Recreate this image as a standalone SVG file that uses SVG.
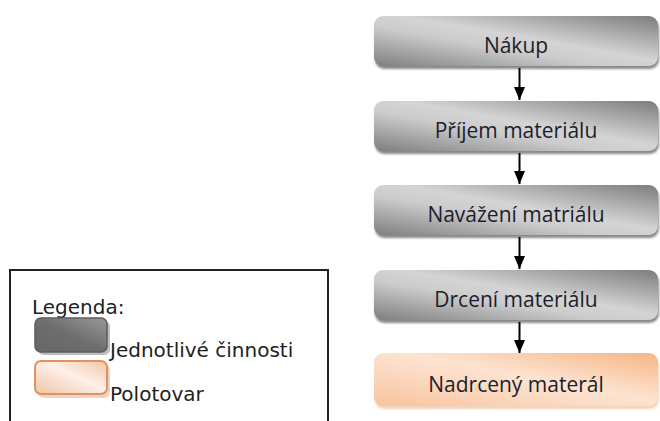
<svg xmlns="http://www.w3.org/2000/svg" width="660" height="421" viewBox="0 0 660 421">
  <defs>
    <linearGradient id="gGrey" x1="1" y1="0" x2="0" y2="1">
      <stop offset="0" stop-color="#7c7c7c"/>
      <stop offset="0.45" stop-color="#d4d4d4"/>
      <stop offset="0.6" stop-color="#cccccc"/>
      <stop offset="1" stop-color="#7e7e7e"/>
    </linearGradient>
    <linearGradient id="gOrange" x1="1" y1="0" x2="0" y2="1">
      <stop offset="0" stop-color="#f6b584"/>
      <stop offset="0.45" stop-color="#fde3d0"/>
      <stop offset="0.6" stop-color="#fcdcc6"/>
      <stop offset="1" stop-color="#f7c39c"/>
    </linearGradient>
    <linearGradient id="gSwDark" x1="1" y1="0" x2="0" y2="1">
      <stop offset="0" stop-color="#9a9a9a"/>
      <stop offset="0.5" stop-color="#6e6e6e"/>
      <stop offset="1" stop-color="#666666"/>
    </linearGradient>
    <linearGradient id="gSwOrange" x1="1" y1="0" x2="0" y2="1">
      <stop offset="0" stop-color="#f2c6a6"/>
      <stop offset="0.45" stop-color="#fdf0e8"/>
      <stop offset="1" stop-color="#f1c4a4"/>
    </linearGradient>
    <filter id="soft" x="-5%" y="-20%" width="110%" height="140%">
      <feGaussianBlur stdDeviation="1.2"/>
    </filter>
    <!-- arrowhead drawn along +x so orient="auto" turns it to the line direction -->
    <marker id="arrow" markerWidth="13" markerHeight="11" refX="13" refY="5.5" orient="auto" markerUnits="userSpaceOnUse" viewBox="0 0 13 11">
      <path d="M0,0 L13,5.5 L0,11 Z" fill="#000"/>
    </marker>
    <style>
      .shadow { fill: #5a5a5a; opacity: 0.7; filter: url(#soft); }
      .grey { fill: url(#gGrey); }
      .orange { fill: url(#gOrange); }
      .label { font-family: "Open Sans", "Noto Sans", sans-serif; font-size: 21px; fill: #1a1e2c; text-anchor: middle; }
      .legend { font-family: "DejaVu Sans", sans-serif; font-size: 20px; fill: #222; }
      .conn { stroke: #000; stroke-width: 2; fill: none; }
    </style>
  </defs>

  <!-- legend frame -->
  <g id="legend">
    <path d="M10,421 V270 H328 V421" fill="none" stroke="#222" stroke-width="2"/>
    <text class="legend" x="32" y="314" font-size="21">Legenda:</text>
    <rect x="38" y="321" width="72" height="34" rx="6" fill="#bdbdbd"/>
    <rect x="35" y="318" width="72" height="34" rx="6" fill="url(#gSwDark)" stroke="#5c5c5c" stroke-width="1.5"/>
    <text class="legend" x="110" y="357">Jednotlivé činnosti</text>
    <rect x="38" y="364" width="72" height="34" rx="6" fill="#f3d2bd"/>
    <rect x="35" y="361" width="72" height="33" rx="6" fill="url(#gSwOrange)" stroke="#df9262" stroke-width="2"/>
    <text class="legend" x="110" y="401">Polotovar</text>
  </g>

  <!-- process steps -->
  <g id="nakup">
    <rect class="shadow" x="375" y="19" width="284" height="50" rx="9"/>
    <rect class="grey" x="374" y="16" width="284" height="50" rx="9"/>
    <text class="label" x="516" y="53">Nákup</text>
  </g>
  <g id="prijem">
    <rect class="shadow" x="375" y="104" width="284" height="50" rx="9"/>
    <rect class="grey" x="374" y="101" width="284" height="50" rx="9"/>
    <text class="label" x="516" y="138">Příjem materiálu</text>
  </g>
  <g id="navazeni">
    <rect class="shadow" x="375" y="188" width="284" height="50" rx="9"/>
    <rect class="grey" x="374" y="185" width="284" height="50" rx="9"/>
    <text class="label" x="516" y="222">Navážení matriálu</text>
  </g>
  <g id="drceni">
    <rect class="shadow" x="375" y="273" width="284" height="50" rx="9"/>
    <rect class="grey" x="374" y="270" width="284" height="50" rx="9"/>
    <text class="label" x="516" y="307">Drcení materiálu</text>
  </g>
  <g id="nadrceny">
    <rect class="shadow" x="375" y="357" width="284" height="52" rx="9" style="fill:#e8a878;opacity:0.5"/>
    <rect class="orange" x="374" y="353" width="284" height="53" rx="9"/>
    <text class="label" x="516" y="392">Nadrcený materál</text>
  </g>

  <!-- connectors -->
  <g id="connectors">
    <line class="conn" x1="519.5" y1="68" x2="519.5" y2="100" marker-end="url(#arrow)"/>
    <line class="conn" x1="519.5" y1="153" x2="519.5" y2="184" marker-end="url(#arrow)"/>
    <line class="conn" x1="519.5" y1="237" x2="519.5" y2="269" marker-end="url(#arrow)"/>
    <line class="conn" x1="519.5" y1="322" x2="519.5" y2="353" marker-end="url(#arrow)"/>
  </g>
</svg>
